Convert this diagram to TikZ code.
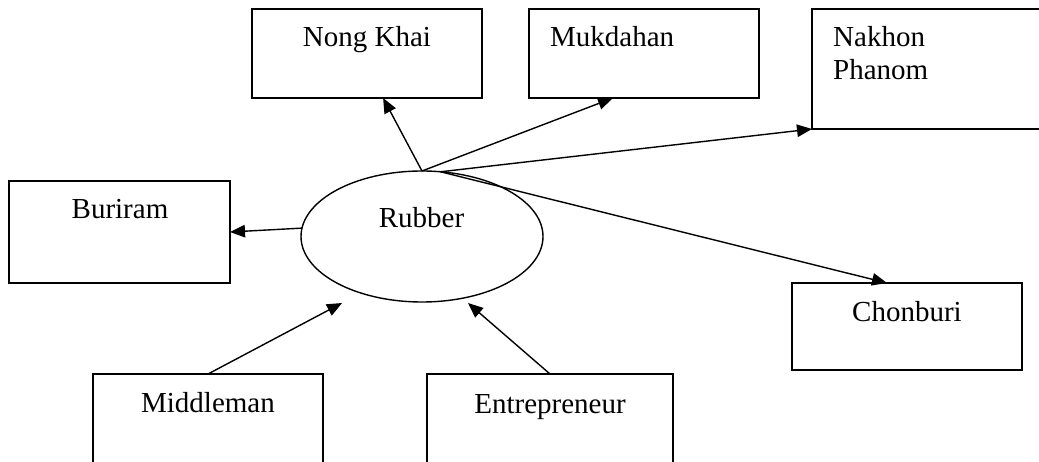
\documentclass[tikz,border=0pt]{standalone}
\usepackage{fontspec}
\setmainfont{Liberation Serif}
\usetikzlibrary{shapes.geometric,arrows.meta,calc}
\begin{document}
\begin{tikzpicture}[x=1pt,y=-1pt,
  box/.style={draw,rectangle,line width=1.6pt,inner sep=0pt,outer sep=0pt},
  lbl/.style={inner sep=0pt,font=\fontsize{29}{33}\selectfont},
  arr/.style={line width=1.4pt,-{Triangle[length=15pt,width=12.5pt]}}]
\useasboundingbox (0,0) rectangle (1039,462);
\fill[white] (0,0) rectangle (1039,462);
\clip (0,0) rectangle (1039,462);
% boxes
\node[box,minimum width=230pt,minimum height=89pt] (nongkhai) at (367,53.5) {};
\node[box,minimum width=230pt,minimum height=89pt] (mukdahan) at (644,53.5) {};
\node[box,minimum width=258pt,minimum height=120pt] (nakhon) at (941,69) {};
\node[box,minimum width=221pt,minimum height=102pt] (buriram) at (119.5,232) {};
\node[box,minimum width=230pt,minimum height=87pt] (chonburi) at (907,326.5) {};
\node[box,minimum width=230pt,minimum height=116pt] (middleman) at (208,432) {};
\node[box,minimum width=246pt,minimum height=116pt] (entrepreneur) at (550,432) {};
\node[draw,ellipse,line width=1.4pt,minimum width=242pt,minimum height=131pt,inner sep=0pt,outer sep=0pt] (rubber) at (422,236.5) {};
% labels
\node[lbl,anchor=base] (nongkhaiT) at (367,47) {Nong Khai};
\node[lbl,anchor=base west] (mukdahanT) at (550,47) {Mukdahan};
\node[lbl,anchor=base west] (nakhonT) at (833,47) {Nakhon};
\node[lbl,anchor=base west] (phanomT) at (833,80) {Phanom};
\node[lbl,anchor=base] (buriramT) at (120,219) {Buriram};
\node[lbl,anchor=base] (rubberT) at (421.5,228) {Rubber};
\node[lbl,anchor=base] (chonburiT) at (907,322) {Chonburi};
\node[lbl,anchor=base] (middlemanT) at (208,412) {Middleman};
\node[lbl,anchor=base] (entrepreneurT) at (550,413) {Entrepreneur};
% free arrow tips
\coordinate (mtip) at (342,303);
\coordinate (etip) at (468,303);
% connectors
\draw[arr] (rubber.north) -- ($(nongkhai.south west)!0.57!(nongkhai.south east)$);
\draw[arr] (rubber.north) -- ($(mukdahan.south west)!0.365!(mukdahan.south east)$);
\draw[arr] (rubber.74) -- (nakhon.south west);
\draw[arr] (rubber.74) -- ($(chonburi.north west)!0.413!(chonburi.north east)$);
\draw[arr] (rubber.176) -- (buriram.east);
\draw[arr] (middleman.north) -- (mtip);
\draw[arr] (entrepreneur.north) -- (etip);
\end{tikzpicture}
\end{document}
